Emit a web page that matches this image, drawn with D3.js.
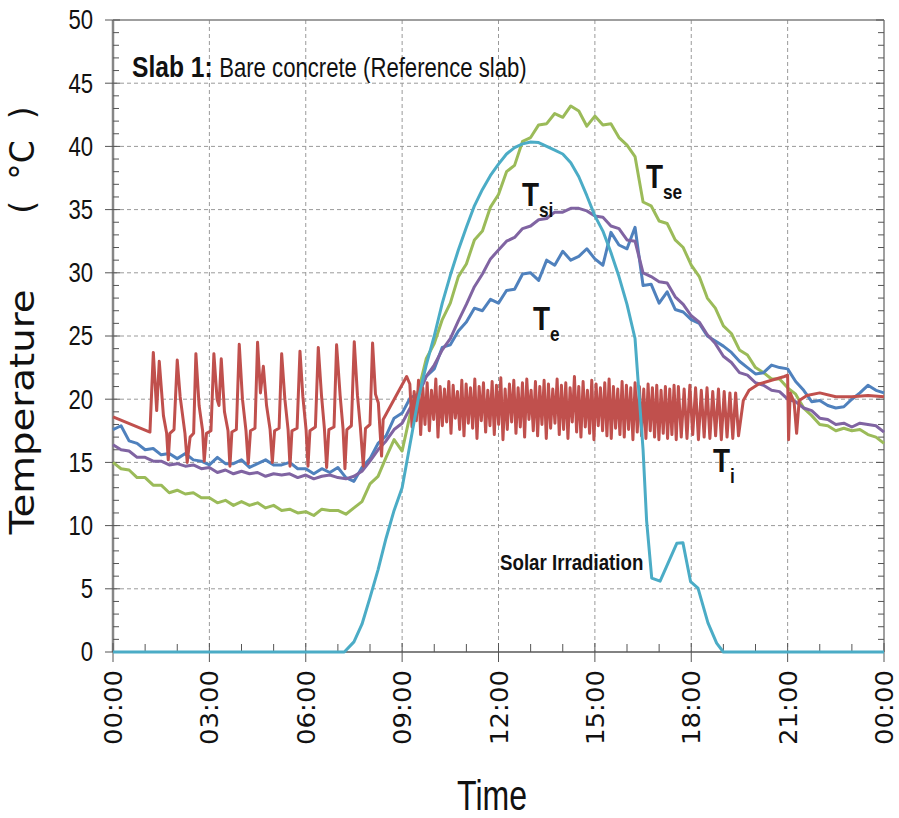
<!doctype html>
<html lang="en">
<head>
<meta charset="UTF-8">
<title>Slab 1 temperatures</title>
<style>
  body { margin: 0; background: #fff; }
  svg { display: block; }
  .narrow { font-family: "Liberation Sans", Arial, sans-serif; }
  .wide { font-family: "DejaVu Sans", Verdana, sans-serif; }
</style>
</head>
<body>
<svg id="chart" width="899" height="818"></svg>
<script src="https://cdn.jsdelivr.net/npm/d3@7"></script>
<script>
// time axis: hours 0..24, temperatures in °C
const yTicks = [0, 5, 10, 15, 20, 25, 30, 35, 40, 45, 50]
const xTicks = [0, 3, 6, 9, 12, 15, 18, 21, 24]
const xTickLabels = ['00:00', '03:00', '06:00', '09:00', '12:00', '15:00', '18:00', '21:00', '00:00']

// sampled every 15 min from 00:00 to 24:00 (one row = 3 h)
const tse = [15.0, 14.5, 14.4, 13.8, 13.8, 13.2, 13.2, 12.6, 12.8, 12.5, 12.6, 12.2,
  12.2, 11.8, 12.0, 11.6, 11.9, 11.6, 11.8, 11.4, 11.6, 11.2, 11.3, 11.0,
  11.1, 10.8, 11.3, 11.2, 11.2, 10.9, 11.4, 11.9, 13.3, 13.9, 15.4, 16.8,
  15.9, 18.8, 20.6, 23.2, 24.4, 26.3, 27.6, 29.7, 30.7, 32.6, 33.3, 35.2,
  36.2, 38.0, 38.5, 40.4, 40.7, 41.7, 41.8, 42.6, 42.3, 43.2, 42.8, 41.6,
  42.4, 41.7, 41.8, 40.7, 40.1, 39.2, 35.6, 35.3, 34.1, 33.9, 32.6, 32.0,
  30.6, 29.7, 28.0, 27.2, 25.8, 25.2, 23.9, 23.5, 22.5, 22.1, 21.6, 21.6,
  20.9, 20.4, 19.3, 18.7, 18.0, 17.9, 17.5, 17.7, 17.5, 17.6, 17.2, 17.0, 16.5]

const te = [17.6, 17.9, 16.7, 16.5, 16.0, 16.1, 15.6, 15.7, 15.3, 15.7, 15.2, 15.1,
  14.8, 15.4, 14.9, 14.9, 15.2, 14.6, 14.9, 15.2, 14.8, 14.8, 15.0, 14.5,
  14.5, 14.1, 14.5, 14.2, 14.6, 13.8, 13.5, 14.6, 15.3, 16.5, 17.1, 18.5,
  18.9, 20.1, 20.4, 21.8, 22.4, 24.1, 24.3, 25.4, 26.1, 27.2, 27.0, 27.9,
  27.6, 28.6, 28.7, 29.9, 30.0, 29.4, 31.0, 30.6, 31.7, 31.0, 31.3, 31.9,
  31.1, 30.6, 33.2, 32.2, 31.9, 33.6, 29.0, 29.1, 27.6, 28.5, 27.1, 26.9,
  26.3, 26.0, 25.0, 24.6, 24.2, 23.7, 23.0, 22.5, 22.0, 22.1, 22.7, 22.5,
  22.4, 21.4, 20.7, 19.8, 19.9, 19.5, 19.3, 19.4, 20.0, 20.5, 21.1, 20.7, 20.5]

const tsi = [16.4, 16.0, 15.9, 15.4, 15.4, 15.1, 15.1, 14.8, 14.9, 14.7, 14.8, 14.5,
  14.6, 14.2, 14.4, 14.1, 14.3, 14.1, 14.2, 13.9, 14.1, 14.0, 14.1, 13.8,
  14.0, 13.7, 13.9, 14.0, 13.8, 13.7, 13.9, 14.3, 15.1, 16.0, 16.7, 17.6,
  18.1, 19.3, 20.3, 21.8, 22.7, 23.9, 24.8, 26.2, 27.5, 28.9, 29.9, 31.1,
  31.8, 32.5, 32.8, 33.5, 33.7, 34.2, 34.3, 34.8, 34.8, 35.1, 35.1, 34.9,
  34.5, 34.4, 33.7, 33.5, 32.6, 32.5, 30.0, 29.7, 29.3, 29.2, 28.1, 27.5,
  26.6, 26.1, 25.1, 24.4, 23.4, 22.9, 22.1, 21.9, 21.3, 21.1, 20.7, 20.6,
  20.0, 19.8, 19.3, 19.1, 18.5, 18.4, 18.0, 18.1, 17.8, 18.1, 18.0, 17.9, 17.4]

// solar irradiation, [hour, value on the temperature scale]
const solar = [[0, 0], [7.2, 0], [7.5, 0.8], [7.75, 2.2], [8, 4.3], [8.25, 6.5], [8.5, 9.0],
  [8.75, 11.2], [9, 13.0], [9.25, 16.5], [9.5, 20.0], [9.75, 22.7], [10, 25.0], [10.25, 27.6],
  [10.5, 29.8], [10.75, 31.8], [11, 33.6], [11.25, 35.3], [11.5, 36.6], [11.75, 37.7], [12, 38.6],
  [12.25, 39.4], [12.5, 39.9], [12.75, 40.2], [13, 40.35], [13.25, 40.3], [13.5, 40.0],
  [13.75, 39.7], [14, 39.4], [14.25, 38.7], [14.5, 37.6], [14.75, 36.1], [15, 34.5], [15.25, 33.3],
  [15.5, 31.6], [15.75, 29.7], [16, 27.5], [16.25, 24.8], [16.5, 16.0], [16.61, 10.4],
  [16.77, 5.85], [17.03, 5.6], [17.55, 8.6], [17.74, 8.65], [17.98, 5.56], [18.21, 5.06],
  [18.52, 2.3], [18.79, 0.7], [19.0, 0], [24, 0]]

// Ti before the daytime cycling, [hour, value]
const tiNight = [[0, 18.6], [1.15, 17.4], [1.255, 23.7], [1.36, 19.1], [1.44, 23.0], [1.57, 18.7],
  [1.67, 17.3], [1.72, 15.2], [1.77, 17.3], [1.9, 17.6], [2.0, 23.1], [2.09, 20.2], [2.24, 17.3],
  [2.31, 15.0], [2.4, 17.0], [2.51, 17.3], [2.58, 23.6], [2.68, 19.5], [2.79, 17.5], [2.84, 15.1],
  [2.91, 17.3], [3.05, 17.5], [3.14, 23.6], [3.24, 20.0], [3.3, 19.5], [3.37, 23.2], [3.47, 19.0],
  [3.58, 17.5], [3.64, 14.7], [3.7, 17.4], [3.84, 17.6], [3.93, 24.35], [4.03, 20.0], [4.14, 17.5],
  [4.21, 14.9], [4.28, 17.5], [4.42, 17.7], [4.5, 24.5], [4.59, 20.5], [4.68, 22.6], [4.78, 19.5],
  [4.89, 17.6], [4.96, 15.0], [5.03, 17.5], [5.17, 17.7], [5.25, 23.6], [5.35, 20.0], [5.45, 17.6],
  [5.51, 14.7], [5.57, 17.5], [5.73, 17.7], [5.82, 23.8], [5.91, 20.2], [6.01, 17.6], [6.07, 14.7],
  [6.13, 17.5], [6.3, 17.8], [6.39, 24.1], [6.49, 20.3], [6.58, 17.7], [6.65, 14.6], [6.72, 17.6],
  [6.88, 17.8], [6.96, 24.3], [7.07, 20.3], [7.16, 17.7], [7.22, 14.5], [7.28, 17.6], [7.42, 17.9],
  [7.51, 24.55], [7.61, 20.3], [7.7, 17.8], [7.79, 14.7], [7.86, 17.7], [8.0, 18.0], [8.08, 24.45],
  [8.17, 20.4], [8.26, 19.7], [8.36, 15.5], [8.41, 18.4], [8.52, 18.9], [9.14, 21.8], [9.19, 21.5]]

// Ti daytime cycling: peak and trough of each cycle
const tiDayHigh = [21.2, 20.6, 21.5, 20.9, 21.3, 20.7, 21.6, 21.0, 20.8, 21.4, 21.1, 20.6,
  21.5, 21.2, 20.9, 21.6, 21.0, 21.3, 20.7, 21.4, 21.1, 21.7, 20.8, 21.2, 21.5, 20.9, 21.3,
  21.6, 20.7, 21.4, 21.0, 21.5, 21.2, 20.8, 21.6, 21.1, 21.3, 20.9, 21.8, 21.0, 21.4, 20.7,
  21.5, 21.2, 20.9, 21.3, 21.6, 21.0, 20.8, 21.4, 21.1, 20.9, 21.3, 21.0, 20.8, 21.2, 20.9,
  21.1, 20.7, 21.0, 20.8, 21.1]
const tiDayLow = [17.8, 18.3, 17.2, 18.0, 17.5, 18.4, 17.0, 17.9, 18.2, 17.3, 18.5, 17.6,
  17.1, 18.1, 17.7, 16.9, 18.3, 17.4, 17.9, 17.2, 18.0, 16.8, 17.6, 18.2, 17.3, 17.8, 17.0,
  18.4, 17.5, 17.1, 18.0, 16.9, 17.7, 18.1, 17.2, 17.6, 16.9, 18.2, 17.4, 17.0, 17.8, 17.3,
  16.8, 17.9, 17.5, 17.1, 16.9, 17.7, 17.2, 17.0, 17.6, 16.8, 17.4, 17.1, 16.9, 17.5, 17.0,
  16.8, 17.3, 16.9, 17.2, 16.8]
const tiEveHigh = [21.0, 20.8, 21.1, 20.9, 20.7, 20.9, 20.6, 20.8, 20.6, 20.5, 20.5]
const tiEveLow = [17.0, 16.9, 17.2, 16.8, 17.0, 16.9, 17.1, 16.8, 17.0, 16.9, 17.1]

// Ti after the cycling stops
const tiLate = [[19.62, 19.9], [19.8, 20.7], [20.1, 21.2], [20.5, 21.5], [20.9, 21.8], [21.0, 21.9],
  [21.03, 16.8], [21.08, 20.5], [21.2, 19.8], [21.28, 17.3], [21.36, 19.9], [21.6, 20.3],
  [22.0, 20.5], [22.5, 20.2], [23.0, 20.2], [23.5, 20.3], [24.0, 20.2]]

const mLeft = 113, mRight = 884, mTop = 20, mBottom = 652
const squeeze = 0.82   // the original uses a condensed face

const svg = d3.select('#chart')
const x = d3.scaleLinear().domain([0, 24]).range([mLeft, mRight])
const y = d3.scaleLinear().domain([0, 50]).range([mBottom, mTop])

// grid
const grid = svg.append('g').attr('stroke', '#9a9a9a').attr('stroke-width', 1).attr('stroke-dasharray', '4,3')
grid.selectAll('.gy').data(yTicks.filter(v => v > 0 && v < 50)).enter().append('line')
    .attr('x1', mLeft).attr('x2', mRight).attr('y1', d => y(d)).attr('y2', d => y(d))
grid.selectAll('.gx').data(xTicks.filter(v => v > 0 && v < 24)).enter().append('line')
    .attr('y1', mTop).attr('y2', mBottom).attr('x1', d => x(d)).attr('x2', d => x(d))

// frame + ticks
const axes = svg.append('g')
axes.append('line').attr('x1', mLeft).attr('x2', mRight).attr('y1', mTop).attr('y2', mTop)
    .attr('stroke', '#7f7f7f').attr('stroke-width', 1.5)
axes.append('line').attr('x1', mRight).attr('x2', mRight).attr('y1', mTop).attr('y2', mBottom)
    .attr('stroke', '#7f7f7f').attr('stroke-width', 1.5)
axes.append('line').attr('x1', mLeft).attr('x2', mLeft).attr('y1', mTop).attr('y2', mBottom)
    .attr('stroke', '#868686').attr('stroke-width', 2.5)
axes.append('line').attr('x1', mLeft).attr('x2', mRight).attr('y1', mBottom).attr('y2', mBottom)
    .attr('stroke', '#595959').attr('stroke-width', 1.5)

const yMinor = d3.range(0, 51).filter(v => v % 5 !== 0)
axes.selectAll('.ymin').data(yMinor).enter().append('line')
    .attr('x1', mLeft).attr('x2', mLeft + 6).attr('y1', d => y(d)).attr('y2', d => y(d))
    .attr('stroke', '#555').attr('stroke-width', 1)
axes.selectAll('.ymaj').data(yTicks).enter().append('line')
    .attr('x1', mLeft - 8).attr('x2', mLeft + 7).attr('y1', d => y(d)).attr('y2', d => y(d))
    .attr('stroke', '#555').attr('stroke-width', 1)
axes.selectAll('.rmin').data(yMinor).enter().append('line')
    .attr('x1', mRight - 6).attr('x2', mRight).attr('y1', d => y(d)).attr('y2', d => y(d))
    .attr('stroke', '#555').attr('stroke-width', 1)
axes.selectAll('.rmaj').data(yTicks).enter().append('line')
    .attr('x1', mRight - 8).attr('x2', mRight).attr('y1', d => y(d)).attr('y2', d => y(d))
    .attr('stroke', '#555').attr('stroke-width', 1)
axes.selectAll('.xmin').data(d3.range(0, 25).filter(v => v % 3 !== 0)).enter().append('line')
    .attr('x1', d => x(d)).attr('x2', d => x(d)).attr('y1', mBottom - 8).attr('y2', mBottom)
    .attr('stroke', '#555').attr('stroke-width', 1)
axes.selectAll('.xmaj').data(xTicks).enter().append('line')
    .attr('x1', d => x(d)).attr('x2', d => x(d)).attr('y1', mBottom - 9).attr('y2', mBottom + 10)
    .attr('stroke', '#555').attr('stroke-width', 1)

// tick labels
svg.append('g').selectAll('text').data(yTicks).enter().append('text')
    .attr('class', 'narrow')
    .attr('transform', d => `translate(93,${y(d)}) scale(${squeeze},1)`)
    .attr('dy', '0.35em')
    .attr('text-anchor', 'end').attr('font-size', 27).attr('fill', '#111')
    .text(d => d)
svg.append('g').selectAll('text').data(xTicks).enter().append('text')
    .attr('class', 'wide')
    .attr('transform', d => `translate(${x(d) + 9},670) rotate(-90)`)
    .attr('text-anchor', 'end').attr('font-size', 24).attr('fill', '#111')
    .attr('textLength', 75).attr('lengthAdjust', 'spacingAndGlyphs')
    .text((d, i) => xTickLabels[i])

// axis titles
svg.append('text').attr('class', 'wide')
    .attr('transform', 'translate(34,412) rotate(-90)')
    .attr('text-anchor', 'middle').attr('font-size', 33).attr('fill', '#111')
    .attr('textLength', 245).attr('lengthAdjust', 'spacingAndGlyphs')
    .text('Temperature')
svg.append('text').attr('class', 'wide')
    .attr('transform', 'translate(34,160) rotate(-90)')
    .attr('text-anchor', 'middle').attr('font-size', 33).attr('fill', '#111')
    .attr('xml:space', 'preserve')
    .text('(  °C  )')
svg.append('text').attr('class', 'narrow')
    .attr('x', 492).attr('y', 810).attr('text-anchor', 'middle')
    .attr('font-size', 42).attr('fill', '#111')
    .attr('textLength', 70).attr('lengthAdjust', 'spacingAndGlyphs')
    .text('Time')

// title
const title = svg.append('text').attr('class', 'narrow')
    .attr('transform', `translate(132,77) scale(${squeeze},1)`)
    .attr('font-size', 27).attr('fill', '#111')
title.append('tspan').attr('font-weight', 'bold').attr('font-size', 30).text('Slab 1:')
title.append('tspan').attr('dx', 8).text('Bare concrete (Reference slab)')

// series
const line = d3.line().x(d => x(d[0])).y(d => y(d[1]))
const quarter = v => v.map((t, i) => [i * 0.25, t])

function cycles(start, end, highs, lows) {
  const step = (end - start) / highs.length
  const pts = []
  highs.forEach((h, i) => {
    pts.push([start + i * step, h])
    pts.push([start + (i + 0.5) * step, lows[i]])
  })
  return pts
}
const ti = [].concat(
  tiNight,
  cycles(9.24, 17.6, tiDayHigh, tiDayLow),
  cycles(17.6, 19.56, tiEveHigh, tiEveLow),
  tiLate
)

const series = [
  {pts: quarter(tse), color: '#9bbb59', w: 3},
  {pts: quarter(te), color: '#4f81bd', w: 3},
  {pts: quarter(tsi), color: '#8064a2', w: 3},
  {pts: ti, color: '#c0504d', w: 3},
  {pts: solar, color: '#4bacc6', w: 3}
]
svg.append('g').selectAll('path').data(series).enter().append('path')
    .attr('d', d => line(d.pts))
    .attr('fill', 'none').attr('stroke', d => d.color).attr('stroke-width', d => d.w)
    .attr('stroke-linejoin', 'round')

// series labels
const labels = [
  {x: 646, y: 188, main: 'T', sub: 'se'},
  {x: 522, y: 206, main: 'T', sub: 'si'},
  {x: 533, y: 330, main: 'T', sub: 'e'},
  {x: 713, y: 472, main: 'T', sub: 'i'}
]
const lab = svg.append('g').selectAll('text').data(labels).enter().append('text')
    .attr('class', 'narrow')
    .attr('transform', d => `translate(${d.x},${d.y}) scale(${squeeze},1)`)
    .attr('font-weight', 'bold').attr('fill', '#111')
lab.append('tspan').attr('font-size', 34).text(d => d.main)
lab.append('tspan').attr('font-size', 21).attr('dy', 11).text(d => d.sub)

svg.append('text').attr('class', 'narrow')
    .attr('transform', 'translate(500,570) scale(0.85,1)')
    .attr('font-size', 22).attr('font-weight', 'bold').attr('fill', '#111')
    .text('Solar Irradiation')
</script>
</body>
</html>
